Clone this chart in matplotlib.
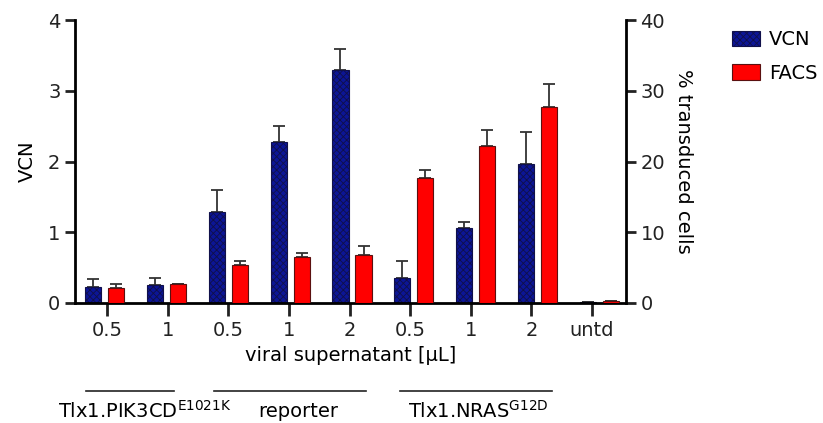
import numpy as np
import matplotlib
matplotlib.use('Agg')
import matplotlib.pyplot as plt
from matplotlib.patches import Patch

plt.rcParams['font.family'] = ['DejaVu Sans']
plt.rcParams['mathtext.default'] = 'regular'
plt.rcParams['hatch.linewidth'] = 0.6

# data
doses = ['0.5', '1', '0.5', '1', '2', '0.5', '1', '2', 'untd']
vcn = [0.22, 0.25, 1.29, 2.27, 3.29, 0.35, 1.06, 1.96, 0.01]
vcn_err = [0.12, 0.11, 0.31, 0.23, 0.30, 0.25, 0.08, 0.45, 0.0]
facs = [2.1, 2.7, 5.3, 6.5, 6.8, 17.7, 22.2, 27.7, 0.3]
facs_err = [0.6, 0.05, 0.6, 0.5, 1.2, 1.1, 2.2, 3.3, 0.0]
groups = [r'Tlx1.PIK3CD$^{E1021K}$', 'reporter', r'Tlx1.NRAS$^{G12D}$']

fig = plt.figure(figsize=(8.23, 4.23), dpi=100)
ax = fig.add_axes([0.0911, 0.2837, 0.6695, 0.669])
ax2 = ax.twinx()

x = np.arange(len(doses))
xb = x * 1.02 - 0.04
w = 0.265
off = 0.19
fs = 14

blue = '#0c1596'
red = '#ff0000'
ax.bar(xb - off, vcn, w, color=blue, edgecolor='#10104a', hatch='xxxxx', linewidth=0.8, zorder=2)
ax.errorbar(xb - off, vcn, yerr=[np.zeros(len(vcn)), vcn_err], fmt='none',
            ecolor='#333333', elinewidth=1.3, capsize=4, capthick=1.3, zorder=1)
ax2.bar(xb + off, facs, w, color=red, edgecolor='#5a1010', linewidth=0.8, zorder=2)
ax2.errorbar(xb + off, facs, yerr=[np.zeros(len(facs)), facs_err], fmt='none',
             ecolor='#333333', elinewidth=1.3, capsize=4, capthick=1.3, zorder=1)

ax.set_xlim(-0.53, 8.56)
ax.set_ylim(0, 4)
ax2.set_ylim(0, 40)
ax.set_yticks([0, 1, 2, 3, 4])
ax2.set_yticks([0, 10, 20, 30, 40])
ax.set_xticks(x)
ax.set_xticklabels(doses)

for a in (ax, ax2):
    a.spines['top'].set_visible(False)
    for s in a.spines.values():
        s.set_linewidth(2)
    a.tick_params(width=2, length=7, labelsize=fs, colors='#222222')
ax.spines['right'].set_visible(False)
ax2.spines['left'].set_visible(False)
ax2.spines['bottom'].set_visible(False)
ax.tick_params(axis='x', length=9, pad=4)

ax.set_ylabel('VCN', fontsize=fs, labelpad=8)
ax2.set_ylabel('% transduced cells', fontsize=fs, rotation=-90, labelpad=20)
ax.set_xlabel('viral supernatant [μL]', fontsize=fs, labelpad=4)

# group lines + labels under the axis
line_x = [(86, 174), (214, 366), (400, 552)]
label_x = [145, 298, 478]
for (x0, x1), lx, g in zip(line_x, label_x, groups):
    fig.lines.append(plt.Line2D([x0 / 823, x1 / 823], [1 - 391 / 423] * 2,
                                color='#222222', lw=1.2, transform=fig.transFigure))
    fig.text(lx / 823, 1 - 411 / 423, g, ha='center', va='center', fontsize=fs)

handles = [Patch(facecolor=blue, edgecolor='#10104a', hatch='xxxxx', linewidth=0.8),
           Patch(facecolor=red, edgecolor='#5a1010', linewidth=0.8)]
fig.legend(handles, ['VCN', 'FACS'], loc='upper left', bbox_to_anchor=(732 / 823, 1 - 30 / 423),
           frameon=False, fontsize=fs, handlelength=1.45, handleheight=0.85,
           labelspacing=0.75, handletextpad=0.45, borderpad=0, borderaxespad=0)

fig.savefig('out.png', dpi=100)
